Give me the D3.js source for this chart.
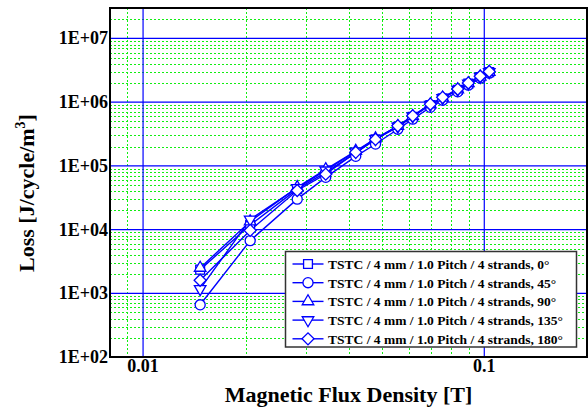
<!DOCTYPE html>
<html>
<head>
<meta charset="utf-8">
<script src="https://cdn.jsdelivr.net/npm/d3@7"></script>
<style>
	body { margin: 0; background: #fff; }
	text { font-family: "Liberation Serif", "Times New Roman", serif; font-weight: bold; fill: #000; }
</style>
</head>
<body>
<div id="chart-div"></div>
<script>
//Data

	//Magnetic flux density [T]
	var fluxDensity = [0.0147, 0.0206, 0.0283, 0.0343, 0.0420, 0.0480, 0.0558, 0.0617, 0.0695, 0.0755, 0.0836, 0.0898, 0.0973, 0.1034];

	//Loss [J/cycle/m3] for each angle
	var loss0   = [2.35e3, 1.18e4, 4.3e4, 7.9e4, 1.60e5, 2.60e5, 4.10e5, 5.9e5, 9.0e5, 1.15e6, 1.56e6, 1.95e6, 2.48e6, 2.95e6];
	var loss45  = [6.6e2, 6.7e3, 3.0e4, 6.6e4, 1.41e5, 2.20e5, 3.75e5, 5.4e5, 8.3e5, 1.07e6, 1.45e6, 1.85e6, 2.38e6, 2.85e6];
	var loss90  = [2.5e3, 1.34e4, 4.6e4, 8.8e4, 1.71e5, 2.68e5, 4.20e5, 6.0e5, 9.2e5, 1.17e6, 1.58e6, 1.97e6, 2.50e6, 2.97e6];
	var loss135 = [1.17e3, 1.44e4, 4.5e4, 8.5e4, 1.68e5, 2.65e5, 4.15e5, 6.0e5, 9.1e5, 1.16e6, 1.57e6, 1.96e6, 2.50e6, 2.96e6];
	var loss180 = [1.6e3, 9.7e3, 4.1e4, 7.4e4, 1.63e5, 2.60e5, 4.25e5, 6.1e5, 9.3e5, 1.19e6, 1.60e6, 2.00e6, 2.55e6, 3.02e6];

	var seriesNames = ["TSTC / 4 mm / 1.0 Pitch / 4 strands, 0\u00B0",
		"TSTC / 4 mm / 1.0 Pitch / 4 strands, 45\u00B0",
		"TSTC / 4 mm / 1.0 Pitch / 4 strands, 90\u00B0",
		"TSTC / 4 mm / 1.0 Pitch / 4 strands, 135\u00B0",
		"TSTC / 4 mm / 1.0 Pitch / 4 strands, 180\u00B0"];
	var seriesValues = [loss0, loss45, loss90, loss135, loss180];

	//Axis ticks
	var xTickValues = [0.01, 0.1];
	var xTickLabels = ["0.01", "0.1"];
	var yTickValues = [1e2, 1e3, 1e4, 1e5, 1e6, 1e7];
	var yTickLabels = ["1E+02", "1E+03", "1E+04", "1E+05", "1E+06", "1E+07"];

//General use variables

	var W = 588, H = 410;
	var margin = {top: 8, right: 1, bottom: 53, left: 110},
		w = W - margin.left - margin.right,
		h = H - margin.top - margin.bottom;

	var blue = "#0000ff";

	var x = d3.scaleLog().domain([0.008, 0.2]).range([0, w]);
	var y = d3.scaleLog().domain([1e2, 3e7]).range([h, 0]);

	//Marker shapes, one per series
	var markers = [
		{type: d3.symbolSquare, size: 78, rotate: 0},
		{type: d3.symbolCircle, size: 80, rotate: 0},
		{type: d3.symbolTriangle, size: 58, rotate: 0},
		{type: d3.symbolTriangle, size: 58, rotate: 180},
		{type: d3.symbolSquare, size: 72, rotate: 45}
	];

	var svg = d3.select("#chart-div").append("svg")
		.attr("width", W)
		.attr("height", H);

	var g = svg.append("g")
		.attr("transform", "translate(" + margin.left + "," + margin.top + ")");

	g.append("rect")
		.attr("width", w).attr("height", h)
		.attr("fill", "#fff");

//Grid

	//minor grid: 2..9 of each decade
	var xMinor = [], yMinor = [];
	[0.001, 0.01, 0.1].forEach(function(d) {
		for (var k = 2; k <= 9; k++) {
			var v = d * k;
			if (v > 0.008 && v < 0.2) xMinor.push(v);
		}
	});
	[1e2, 1e3, 1e4, 1e5, 1e6, 1e7].forEach(function(d) {
		for (var k = 2; k <= 9; k++) {
			var v = d * k;
			if (v < 3e7) yMinor.push(v);
		}
	});
	xMinor.push(0.009);

	g.append("g").selectAll("line")
		.data(xMinor).enter().append("line")
		.attr("x1", function(d) { return Math.round(x(d)) + 0.5; })
		.attr("x2", function(d) { return Math.round(x(d)) + 0.5; })
		.attr("y1", 0).attr("y2", h)
		.attr("stroke", "#11ee11")
		.attr("stroke-dasharray", "2,2");

	g.append("g").selectAll("line")
		.data(yMinor).enter().append("line")
		.attr("y1", function(d) { return Math.round(y(d)) + 0.5; })
		.attr("y2", function(d) { return Math.round(y(d)) + 0.5; })
		.attr("x1", 0).attr("x2", w)
		.attr("stroke", "#11ee11")
		.attr("stroke-dasharray", "2,2");

	//major grid
	g.append("g").selectAll("line")
		.data(xTickValues).enter().append("line")
		.attr("x1", function(d) { return x(d); })
		.attr("x2", function(d) { return x(d); })
		.attr("y1", 0).attr("y2", h)
		.attr("stroke", blue).attr("stroke-width", 1.2);

	g.append("g").selectAll("line")
		.data(yTickValues.slice(1)).enter().append("line")
		.attr("y1", function(d) { return y(d); })
		.attr("y2", function(d) { return y(d); })
		.attr("x1", 0).attr("x2", w)
		.attr("stroke", blue).attr("stroke-width", 1.2);

//Series

	var line = d3.line()
		.x(function(d) { return x(d.b); })
		.y(function(d) { return y(d.v); });

	var series = seriesValues.map(function(vals, i) {
		return {name: seriesNames[i], marker: markers[i],
			points: vals.map(function(v, j) { return {b: fluxDensity[j], v: v}; })};
	});

	g.append("clipPath").attr("id", "plot-clip")
		.append("rect").attr("width", w).attr("height", h);

	var plot = g.append("g").attr("clip-path", "url(#plot-clip)");

	series.forEach(function(s) {
		plot.append("path")
			.datum(s.points)
			.attr("d", line)
			.attr("fill", "none")
			.attr("stroke", blue)
			.attr("stroke-width", 1.4);
	});

	series.forEach(function(s) {
		var sym = d3.symbol().type(s.marker.type).size(s.marker.size);
		plot.append("g").selectAll("path")
			.data(s.points).enter().append("path")
			.attr("d", sym)
			.attr("transform", function(d) {
				return "translate(" + x(d.b) + "," + y(d.v) + ") rotate(" + s.marker.rotate + ")";
			})
			.attr("fill", "#fff")
			.attr("stroke", blue)
			.attr("stroke-width", 1.3);
	});

	//plot frame
	g.append("rect")
		.attr("width", w).attr("height", h)
		.attr("fill", "none")
		.attr("stroke", "#000")
		.attr("stroke-width", 2);

//Axes labels

	g.append("g").selectAll("text")
		.data(yTickValues).enter().append("text")
		.attr("x", -2)
		.attr("y", function(d) { return y(d) + 6; })
		.attr("text-anchor", "end")
		.style("font-size", "18px")
		.text(function(d, i) { return yTickLabels[i]; });

	g.append("g").selectAll("text")
		.data(xTickValues).enter().append("text")
		.attr("x", function(d) { return x(d); })
		.attr("y", h + 15)
		.attr("text-anchor", "middle")
		.style("font-size", "18px")
		.text(function(d, i) { return xTickLabels[i]; });

	svg.append("text")
		.attr("x", margin.left + w / 2)
		.attr("y", 402)
		.attr("text-anchor", "middle")
		.style("font-size", "22px")
		.text("Magnetic Flux Density [T]");

	var yTitle = svg.append("text")
		.attr("transform", "translate(34,193) rotate(-90)")
		.attr("text-anchor", "middle")
		.style("font-size", "22px");
	yTitle.append("tspan").text("Loss [J/cycle/m");
	yTitle.append("tspan").attr("dy", -9).style("font-size", "14px").text("3");
	yTitle.append("tspan").attr("dy", 9).text("]");

//Legend

	var legend = svg.append("g").attr("class", "legend");

	legend.append("rect")
		.attr("x", 285.5).attr("y", 251.5)
		.attr("width", 291).attr("height", 95.5)
		.attr("fill", "#fff")
		.attr("stroke", "#333")
		.attr("stroke-width", 1.5);

	var rows = legend.selectAll("g.row")
		.data(series).enter().append("g")
		.attr("class", "row")
		.attr("transform", function(d, i) { return "translate(0," + (264 + i * 18.7) + ")"; });

	rows.append("line")
		.attr("x1", 292.5).attr("x2", 323.5)
		.attr("stroke", blue).attr("stroke-width", 1.4);

	rows.append("path")
		.attr("d", function(d) { return d3.symbol().type(d.marker.type).size(d.marker.size)(); })
		.attr("transform", function(d) { return "translate(308,0) rotate(" + d.marker.rotate + ")"; })
		.attr("fill", "#fff")
		.attr("stroke", blue)
		.attr("stroke-width", 1.3);

	rows.append("text")
		.attr("x", 328)
		.attr("y", 5)
		.style("font-size", "13.5px")
		.text(function(d) { return d.name; });
</script>
</body>
</html>
